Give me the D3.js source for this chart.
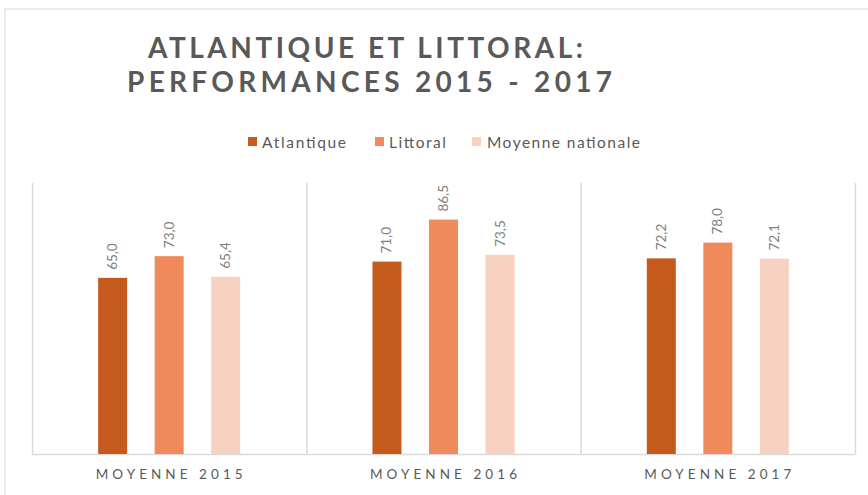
<!DOCTYPE html>
<html lang="fr">
  <head>
    <meta charset="UTF-8" />
    <title>Atlantique et Littoral</title>
    <script src="https://d3js.org/d3.v7.min.js"></script>
    <style>
      body {
        margin: 0;
        background: #fff;
      }
      svg {
        display: block;
        font-family: Lato, "Open Sans", sans-serif;
      }
      .title {
        font-size: 28px;
        font-weight: bold;
        fill: #595959;
      }
      .legend text {
        font-size: 15.5px;
        fill: #595959;
      }
      .cat {
        font-size: 13.5px;
        fill: #595959;
      }
      .val {
        font-size: 13.5px;
        fill: #7f7f7f;
      }
    </style>
  </head>
  <body>
    <svg id="chart"></svg>
    <script>
      const categories = ["MOYENNE 2015", "MOYENNE 2016", "MOYENNE 2017"];
      const series = ["Atlantique", "Littoral", "Moyenne nationale"];
      const atlantique = [65.0, 71.0, 72.2];
      const littoral = [73.0, 86.5, 78.0];
      const moyenne = [65.4, 73.5, 72.1];
      const colors = ["#c45a1b", "#f08a5b", "#f7d2c0"];

      const width = 868;
      const height = 495;
      const plot = { left: 32, right: 855, top: 183, bottom: 454 };

      const svg = d3.select("#chart").attr("width", width).attr("height", height);

      // outer frame
      svg
        .append("rect")
        .attr("x", 5)
        .attr("y", 9)
        .attr("width", width + 10)
        .attr("height", height + 10)
        .attr("fill", "#fff")
        .attr("stroke", "#d9d9d9");

      // title
      const title = svg.append("g").attr("class", "title");
      title
        .append("text")
        .attr("x", 148)
        .attr("y", 58)
        .attr("textLength", 435)
        .attr("lengthAdjust", "spacing")
        .text("ATLANTIQUE ET LITTORAL:");
      title
        .append("text")
        .attr("x", 127)
        .attr("y", 92)
        .attr("textLength", 485)
        .attr("lengthAdjust", "spacing")
        .text("PERFORMANCES 2015 - 2017");

      // legend
      const legendX = [248, 375, 472];
      const legendW = [84, 57, 153];
      const legend = svg
        .append("g")
        .attr("class", "legend")
        .selectAll("g")
        .data(series)
        .enter()
        .append("g")
        .attr("transform", (d, i) => `translate(${legendX[i]},142)`);
      legend
        .append("rect")
        .attr("x", 0)
        .attr("y", -5)
        .attr("width", 9)
        .attr("height", 9)
        .attr("fill", (d, i) => colors[i]);
      legend
        .append("text")
        .attr("x", (d, i) => (i === 2 ? 15 : 14))
        .attr("y", 5.5)
        .attr("textLength", (d, i) => legendW[i])
        .attr("lengthAdjust", "spacing")
        .text((d) => d);

      // scales
      const x0 = d3
        .scaleBand()
        .domain(categories)
        .range([plot.left, plot.right])
        .padding(0);
      const x1 = d3
        .scaleBand()
        .domain(series)
        .range([0, x0.bandwidth()])
        .paddingInner(0.487)
        .paddingOuter(1.17);
      const y = d3.scaleLinear().domain([0, 100]).range([plot.bottom, plot.top]);

      // category separators
      const sep = categories.map((c) => x0(c)).concat([plot.right]);
      svg
        .append("g")
        .selectAll("line")
        .data(sep)
        .enter()
        .append("line")
        .attr("x1", (d) => d + 0.5)
        .attr("x2", (d) => d + 0.5)
        .attr("y1", y(100))
        .attr("y2", y(0))
        .attr("stroke", "#d9d9d9")
        .attr("stroke-width", 1.5);

      // baseline
      svg
        .append("line")
        .attr("x1", plot.left)
        .attr("x2", plot.right)
        .attr("y1", y(0) + 0.5)
        .attr("y2", y(0) + 0.5)
        .attr("stroke", "#d9d9d9")
        .attr("stroke-width", 1.5);

      const fr = d3.formatLocale({
        decimal: ",",
        thousands: " ",
        grouping: [3],
        currency: ["", " €"],
      });
      const fmt = fr.format(".1f");

      const rows = categories.map((c, i) => ({
        cat: c,
        values: [atlantique[i], littoral[i], moyenne[i]].map((v, j) => ({
          key: series[j],
          value: v,
          color: colors[j],
        })),
      }));

      const groups = svg
        .append("g")
        .selectAll("g")
        .data(rows)
        .enter()
        .append("g")
        .attr("transform", (d) => `translate(${x0(d.cat)},0)`);

      groups
        .selectAll("rect")
        .data((d) => d.values)
        .enter()
        .append("rect")
        .attr("x", (d) => x1(d.key))
        .attr("y", (d) => y(d.value))
        .attr("width", x1.bandwidth())
        .attr("height", (d) => y(0) - y(d.value))
        .attr("fill", (d) => d.color);

      groups
        .selectAll("text.val")
        .data((d) => d.values)
        .enter()
        .append("text")
        .attr("class", "val")
        .attr("transform", (d) => {
          const cx = x1(d.key) + x1.bandwidth() / 2 + 4.5;
          const cy = y(d.value) - 8;
          return `translate(${cx},${cy}) rotate(-90)`;
        })
        .text((d) => fmt(d.value));

      // category labels
      svg
        .append("g")
        .selectAll("text")
        .data(categories)
        .enter()
        .append("text")
        .attr("class", "cat")
        .attr("x", (d) => x0(d) + x0.bandwidth() / 2)
        .attr("y", 479)
        .attr("text-anchor", "middle")
        .attr("textLength", 147)
        .attr("lengthAdjust", "spacing")
        .text((d) => d);
    </script>
  </body>
</html>
